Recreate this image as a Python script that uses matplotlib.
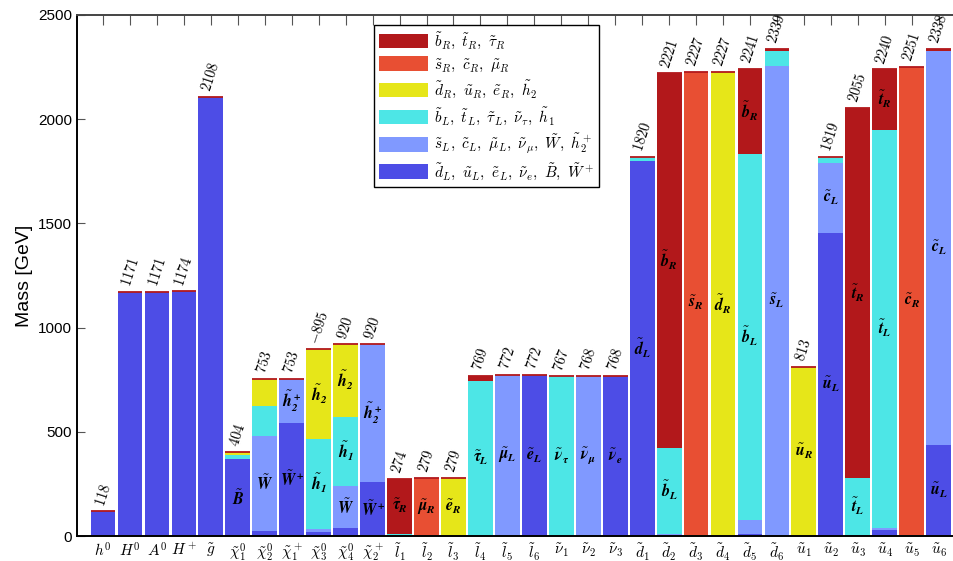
import matplotlib
matplotlib.use('Agg')
import matplotlib.pyplot as plt
import numpy as np
from matplotlib.patches import Patch

plt.rcParams['mathtext.fontset'] = 'cm'
plt.rcParams['mathtext.bf'] = 'STIXGeneral:italic:bold'
plt.rcParams['mathtext.rm'] = 'STIXGeneral'
plt.rcParams['mathtext.it'] = 'STIXGeneral:italic:bold'
plt.rcParams['font.family'] = ['Liberation Sans', 'DejaVu Sans']

particles = [r'$h^0$', r'$H^0$', r'$A^0$', r'$H^+$', r'$\tilde{g}$',
             r'$\tilde{\chi}_1^0$', r'$\tilde{\chi}_2^0$', r'$\tilde{\chi}_1^+$',
             r'$\tilde{\chi}_3^0$', r'$\tilde{\chi}_4^0$', r'$\tilde{\chi}_2^+$',
             r'$\tilde{l}_1$', r'$\tilde{l}_2$', r'$\tilde{l}_3$', r'$\tilde{l}_4$',
             r'$\tilde{l}_5$', r'$\tilde{l}_6$',
             r'$\tilde{\nu}_1$', r'$\tilde{\nu}_2$', r'$\tilde{\nu}_3$',
             r'$\tilde{d}_1$', r'$\tilde{d}_2$', r'$\tilde{d}_3$', r'$\tilde{d}_4$',
             r'$\tilde{d}_5$', r'$\tilde{d}_6$',
             r'$\tilde{u}_1$', r'$\tilde{u}_2$', r'$\tilde{u}_3$', r'$\tilde{u}_4$',
             r'$\tilde{u}_5$', r'$\tilde{u}_6$']

masses = [118, 1171, 1171, 1174, 2108,
          404, 753, 753, -895, 920, 920,
          274, 279, 279, 769, 772, 772,
          767, 768, 768,
          1820, 2221, 2227, 2227, 2241, 2339,
          813, 1819, 2055, 2240, 2251, 2338]

# composition in percent, groups stacked bottom -> top
blue      = [100, 100, 100, 100, 100, 91, 3, 72, 2, 4, 28,
             0, 0, 0, 0, 0, 100, 0, 0, 100,
             99, 0, 0, 0, 0.5, 0, 0, 80, 0.3, 1.3, 0, 18.6]
lightblue = [0, 0, 0, 0, 0, 0, 61, 28, 2, 22, 72,
             0, 0, 0, 0, 100, 0, 0, 100, 0,
             0, 0.5, 0, 0, 3, 96.5, 0, 18.4, 0, 0.5, 0, 80.9]
cyan      = [0, 0, 0, 0, 0, 5, 19, 0, 48, 36, 0,
             4, 0, 0, 97, 0, 0, 100, 0, 0,
             1, 18.5, 0, 0, 78.3, 3, 0, 1.6, 13.2, 85.2, 0.2, 0]
yellow    = [0, 0, 0, 0, 0, 4, 17, 0, 48, 38, 0,
             0, 0, 100, 0, 0, 0, 0, 0, 0,
             0, 0, 0.3, 100, 0, 0, 100, 0, 0, 0, 0, 0]
orange    = [0, 0, 0, 0, 0, 0, 0, 0, 0, 0, 0,
             0, 100, 0, 0, 0, 0, 0, 0, 0,
             0, 0, 99.7, 0, 0, 0, 0, 0, 0, 0, 99.8, 0]
darkred   = [0, 0, 0, 0, 0, 0, 0, 0, 0, 0, 0,
             96, 0, 0, 3, 0, 0, 0, 0, 0,
             0, 81, 0, 0, 18.2, 0.5, 0, 0, 86.5, 13, 0, 0.5]

groups = [blue, lightblue, cyan, yellow, orange, darkred]
colors = ['#4D4DE6', '#8099FF', '#4DE6E6', '#E6E619', '#E84F33', '#B2181B']
legend_labels = [
    r'$\tilde{d}_L,\ \tilde{u}_L,\ \tilde{e}_L,\ \tilde{\nu}_e,\ \tilde{B},\ \tilde{W}^+$',
    r'$\tilde{s}_L,\ \tilde{c}_L,\ \tilde{\mu}_L,\ \tilde{\nu}_\mu,\ \tilde{W},\ \tilde{h}_2^+$',
    r'$\tilde{b}_L,\ \tilde{t}_L,\ \tilde{\tau}_L,\ \tilde{\nu}_\tau,\ \tilde{h}_1$',
    r'$\tilde{d}_R,\ \tilde{u}_R,\ \tilde{e}_R,\ \tilde{h}_2$',
    r'$\tilde{s}_R,\ \tilde{c}_R,\ \tilde{\mu}_R$',
    r'$\tilde{b}_R,\ \tilde{t}_R,\ \tilde{\tau}_R$',
]

# (bar index, group index, label)
seg_labels = [
    (5, 0, r'\tilde{B}'), (6, 1, r'\tilde{W}'),
    (7, 0, r'\tilde{W}^+'), (7, 1, r'\tilde{h}_2^+'),
    (8, 2, r'\tilde{h}_1'), (8, 3, r'\tilde{h}_2'),
    (9, 1, r'\tilde{W}'), (9, 2, r'\tilde{h}_1'), (9, 3, r'\tilde{h}_2'),
    (10, 0, r'\tilde{W}^+'), (10, 1, r'\tilde{h}_2^+'),
    (11, 5, r'\tilde{\tau}_R'), (12, 4, r'\tilde{\mu}_R'), (13, 3, r'\tilde{e}_R'),
    (14, 2, r'\tilde{\tau}_L'), (15, 1, r'\tilde{\mu}_L'), (16, 0, r'\tilde{e}_L'),
    (17, 2, r'\tilde{\nu}_\tau'), (18, 1, r'\tilde{\nu}_\mu'), (19, 0, r'\tilde{\nu}_e'),
    (20, 0, r'\tilde{d}_L'), (21, 2, r'\tilde{b}_L'), (21, 5, r'\tilde{b}_R'),
    (22, 4, r'\tilde{s}_R'), (23, 3, r'\tilde{d}_R'),
    (24, 2, r'\tilde{b}_L'), (24, 5, r'\tilde{b}_R'), (25, 1, r'\tilde{s}_L'),
    (26, 3, r'\tilde{u}_R'), (27, 0, r'\tilde{u}_L'), (27, 1, r'\tilde{c}_L'),
    (28, 2, r'\tilde{t}_L'), (28, 5, r'\tilde{t}_R'),
    (29, 2, r'\tilde{t}_L'), (29, 5, r'\tilde{t}_R'),
    (30, 4, r'\tilde{c}_R'), (31, 0, r'\tilde{u}_L'), (31, 1, r'\tilde{c}_L'),
]

fig = plt.figure(figsize=(9.54, 5.61), dpi=100)
ax = fig.add_axes([77/954, 25/561, (954-77)/954 + 0.002, 521/561])

x = np.arange(len(masses))
m = np.abs(np.array(masses, dtype=float))
width = 0.92
bottom = np.zeros(len(m))
bottoms = []
heights = []
for g, c in zip(groups, colors):
    h = m * np.array(g) / 100.0
    ax.bar(x, h, width, bottom=bottom, color=c, linewidth=0, zorder=2)
    bottoms.append(bottom.copy())
    heights.append(h)
    bottom = bottom + h

ax.hlines(m, x - width/2, x + width/2, color='#B2181B', lw=1.3, zorder=3)

for xi, mi, lab in zip(x, m, masses):
    ax.text(xi, mi + 16, '$%d$' % lab, rotation=72, ha='center', va='bottom',
            fontsize=10.5, zorder=4)

for bi, gi, lab in seg_labels:
    yc = bottoms[gi][bi] + heights[gi][bi] / 2
    ax.text(bi, yc, r'$\mathbf{%s}$' % lab, ha='center', va='center',
            fontsize=11.5, zorder=4, math_fontfamily='custom')

ax.set_xlim(-0.967, 31.64)
ax.set_ylim(0, 2500)
ax.set_xticks(x)
ax.set_xticklabels(particles, fontsize=11)
ax.set_yticks([0, 500, 1000, 1500, 2000, 2500])
ax.tick_params(axis='y', direction='in', length=6, labelsize=11, color='#555555')
ax.tick_params(axis='x', bottom=True, top=False, direction='in', length=0, pad=4)
sec = ax.secondary_xaxis('top')
sec.set_xticks(x)
sec.set_xticklabels([])
sec.tick_params(direction='in', length=7, color='#555555')
sec.spines['top'].set_visible(False)
ax.set_ylabel('Mass [GeV]', fontsize=14)
ax.spines['right'].set_visible(False)
for s in ['left', 'bottom', 'top']:
    ax.spines[s].set_linewidth(1.4)
ax.spines['top'].set_color('#444444')

handles = [Patch(facecolor=c, edgecolor='none') for c in colors[::-1]]
leg = ax.legend(handles, legend_labels[::-1], loc='upper left',
                bbox_to_anchor=((373-77)/877, (536-25)/521), borderaxespad=0,
                fontsize=11, handlelength=3.2, handleheight=1.1,
                labelspacing=0.32, handletextpad=0.4, borderpad=0.35,
                fancybox=False, framealpha=1, edgecolor='black')
leg.get_frame().set_linewidth(1.0)
leg.set_zorder(5)

fig.savefig('out.png', dpi=100)
